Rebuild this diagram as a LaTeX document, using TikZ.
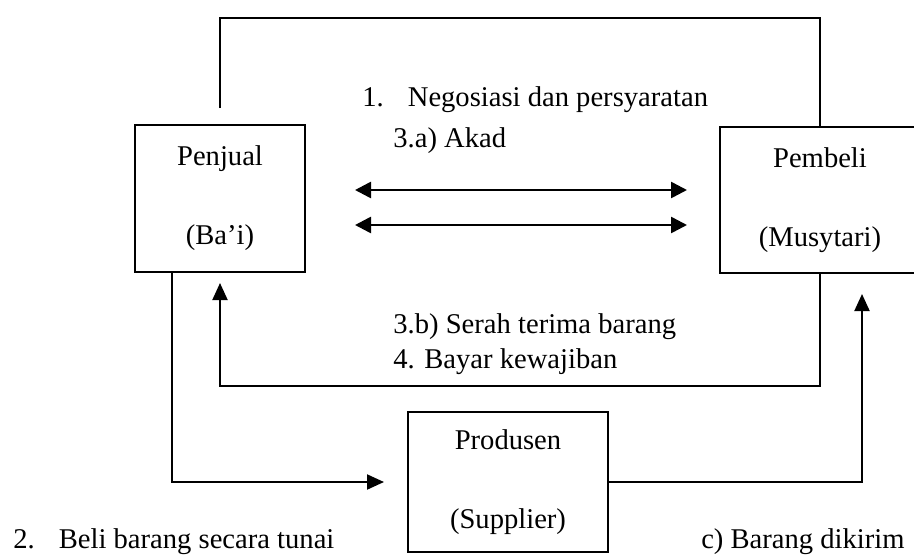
\documentclass[tikz,border=0pt]{standalone}
\usepackage{fontspec}
\setmainfont{Liberation Serif}
\usetikzlibrary{arrows.meta,positioning}

\begin{document}
\begin{tikzpicture}[x=0.5pt,y=-0.5pt]

\tikzset{
	party/.style={
		draw=black,
		rectangle,
		line width=1pt,
		align=center,
		font=\fontsize{14.3}{17.5}\selectfont,
		inner sep=0pt},
	lbl/.style={
		anchor=base west,
		inner sep=0pt,
		font=\fontsize{14.3}{17.5}\selectfont},
	flow/.style={
		line width=1pt,
		-{Triangle[length=8.5pt,width=7.5pt]}},
	deal/.style={
		line width=1.3pt,
		{Triangle[length=8pt,width=8pt]}-{Triangle[length=8pt,width=8pt]}}
}

\useasboundingbox (0,0) rectangle (914,556);

\node[party,minimum width=85pt,minimum height=73.5pt] (penjual) at (220,198.5) {Penjual\\[22pt](Ba’i)};

\node[party,minimum width=100pt,minimum height=73pt] (pembeli) at (820,200) {Pembeli\\[22pt](Musytari)};

\node[party,minimum width=100pt,minimum height=70pt] (produsen) at (508,482) {Produsen\\[22pt](Supplier)};

% negosiasi & akad
\coordinate (dealA1) at (355,190);
\coordinate (dealA2) at (687,190);
\coordinate (dealB1) at (355,225);
\coordinate (dealB2) at (687,225);
\draw[deal] (dealA1) -- (dealA2);
\draw[deal] (dealB1) -- (dealB2);

\draw[line width=0.8pt] ([yshift=8pt]penjual.north) -- ++(0,-90) -| (pembeli.north);

% serah terima / bayar
\draw[flow] (pembeli.south) -- ++(0,112) -| ([yshift=-5pt]penjual.south);

% beli tunai / dikirim
\draw[flow] ([xshift=-24pt]penjual.south) |- ([xshift=-11.5pt]produsen.west);
\draw[flow] (produsen.east) -| ([xshift=21pt,yshift=-10pt]pembeli.south);

\node[lbl] (negosiasi) at (362,106) {1.\hspace{12pt}Negosiasi dan persyaratan};
\node[lbl] (akad) at (393,148) {3.a) Akad};
\node[lbl] (serah) at (393,333) {3.b) Serah terima barang};
\node[lbl] (bayar) at (393,368) {4. Bayar kewajiban};
\node[lbl] (beli) at (13,548) {2.\hspace{12pt}Beli barang secara tunai};
\node[lbl,anchor=base east] (kirim) at (905,548) {c) Barang dikirim};

\end{tikzpicture}
\end{document}
